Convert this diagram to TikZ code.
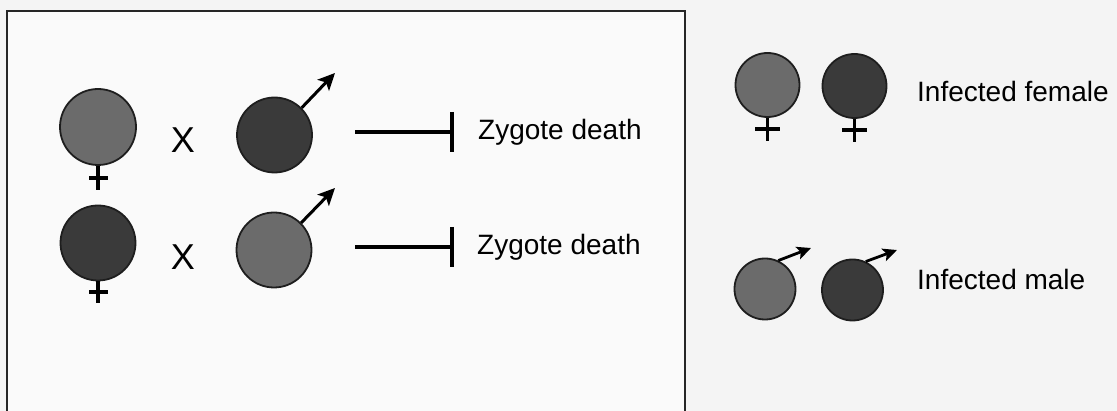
\documentclass[tikz,border=0pt]{standalone}
\usepackage{fontspec}
\setmainfont{Liberation Sans}
\usetikzlibrary{arrows.meta}
\definecolor{bgc}{HTML}{F4F4F4}
\definecolor{boxc}{HTML}{FAFAFA}
\definecolor{lightg}{HTML}{6B6B6B}
\definecolor{darkg}{HTML}{3A3A3A}
\definecolor{edgec}{HTML}{1E1E1E}
\tikzset{
  cell/.style={circle, draw=edgec, line width=1.8pt, inner sep=0pt, minimum size=#1},
  symline/.style={line width=4pt, draw=black},
  malearrow/.style={line width=3pt, -{Stealth[length=17pt,width=16pt,inset=4pt]}},
  smallarrow/.style={line width=2.8pt, -{Stealth[length=14pt,width=13pt,inset=3pt]}},
  inhib/.style={line width=3.5pt},
  lbl/.style={font=\fontsize{28}{30}\selectfont, anchor=base west, inner sep=0pt},
  cross/.style={font=\fontsize{36}{38}\selectfont, anchor=base, inner sep=0pt}
}
\begin{document}
\begin{tikzpicture}[x=1pt,y=-1pt]
\useasboundingbox (0,0) rectangle (1117,411);
\clip (0,0) rectangle (1117,411);
\fill[bgc] (0,0) rectangle (1117,411);
\draw[line width=2pt, draw=black!85, fill=boxc] (7,11) rectangle (685,440);

% row 1
\node[cell=76pt, fill=lightg] (f1) at (98,127) {};
\draw[symline] (f1.south) -- ++(0,24);
\draw[symline] (89,178) -- (108,178);
\node[cross] (x1) at (183,153) {X};
\node[cell=75pt, fill=darkg] (m1) at (274.5,135) {};
\coordinate (m1t) at (335,73);
\draw[malearrow] (m1.north east) -- (m1t);
\coordinate (a1) at (355,132);
\coordinate (b1) at (452,132);
\draw[inhib] (a1) -- (b1);
\draw[inhib] (452,112) -- (452,152);
\node[lbl] (z1) at (478,140) {Zygote death};

% row 2
\node[cell=75pt, fill=darkg] (f2) at (98,243) {};
\draw[symline] (f2.south) -- ++(0,22);
\draw[symline] (89,292) -- (108,292);
\node[cross] (x2) at (183,270) {X};
\node[cell=75pt, fill=lightg] (m2) at (274,250) {};
\coordinate (m2t) at (335,188);
\draw[malearrow] (m2.north east) -- (m2t);
\coordinate (a2) at (355,247);
\coordinate (b2) at (452,247);
\draw[inhib] (a2) -- (b2);
\draw[inhib] (452,227) -- (452,267);
\node[lbl] (z2) at (477,255) {Zygote death};

% legend female
\node[cell=64pt, fill=lightg, minimum height=60pt] (lf1) at (767.5,85) {};
\draw[line width=3.5pt] (lf1.south) -- ++(0,23);
\draw[line width=3.5pt] (755,129) -- (780,129);
\node[cell=64pt, fill=darkg, minimum height=60pt] (lf2) at (854.5,86) {};
\draw[line width=3.5pt] (lf2.south) -- ++(0,23);
\draw[line width=3.5pt] (842,130) -- (867,130);
\node[lbl] (tf) at (917,102) {Infected female};

% legend male
\node[cell=61pt, fill=lightg] (lm1) at (765,289) {};
\coordinate (lm1t) at (811,248);
\draw[smallarrow] (lm1.65) -- (lm1t);
\node[cell=61pt, fill=darkg] (lm2) at (852.5,290) {};
\coordinate (lm2t) at (897,250);
\draw[smallarrow] (lm2.65) -- (lm2t);
\node[lbl] (tm) at (917,290) {Infected male};
\end{tikzpicture}
\end{document}
